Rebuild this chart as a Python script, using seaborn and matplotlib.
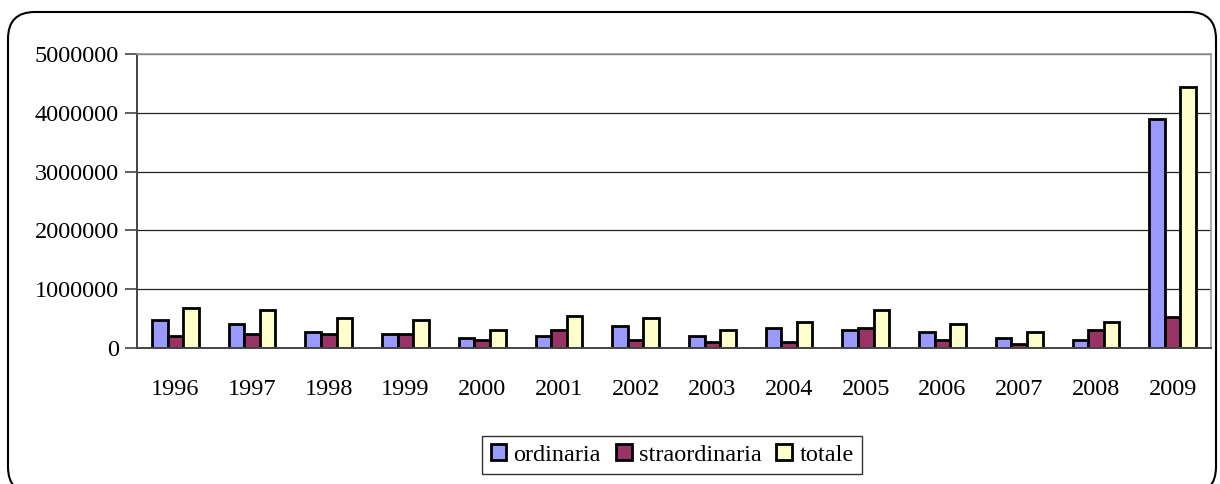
import numpy as np
import pandas as pd
import matplotlib
matplotlib.use("Agg")
import matplotlib.pyplot as plt
from matplotlib.patches import FancyBboxPatch
from matplotlib.ticker import FixedLocator
import seaborn as sns

# ── data ─────────────────────────────────────────────────────────────────────
ANNI = ["1996", "1997", "1998", "1999", "2000", "2001", "2002",
        "2003", "2004", "2005", "2006", "2007", "2008", "2009"]
ORDINARIA = [476000, 408000, 278000, 238000, 170000, 204000, 374000,
             204000, 340000, 306000, 272000, 170000, 136000, 3890000]
STRAORDINARIA = [204000, 238000, 238000, 238000, 136000, 306000, 136000,
                 102000, 102000, 340000, 136000, 68000, 306000, 532000]
TOTALE = [680000, 646000, 510000, 476000, 306000, 544000, 510000,
          306000, 442000, 646000, 408000, 272000, 442000, 4440000]
SERIE = ["ordinaria", "straordinaria", "totale"]
PALETTE = {"ordinaria": "#9999FF", "straordinaria": "#993366", "totale": "#FFFFCC"}

df = pd.DataFrame({
    "anno": ANNI * 3,
    "serie": np.repeat(SERIE, len(ANNI)),
    "valore": ORDINARIA + STRAORDINARIA + TOTALE,
})

# ── style ────────────────────────────────────────────────────────────────────
sns.set_style("white")
plt.rcParams.update({
    "font.family": ["Liberation Serif", "DejaVu Serif"],
    "font.size": 17.5,
    "text.color": "black",
    "xtick.color": "black",
    "ytick.color": "black",
    "xtick.labelcolor": "black",
    "ytick.labelcolor": "black",
})

fig = plt.figure(figsize=(12.2, 4.84), dpi=100)
ax = fig.add_axes([137 / 1220, 1 - 348 / 484, (1211 - 137) / 1220, (348 - 54) / 484])

sns.barplot(data=df, x="anno", y="valore", hue="serie", palette=PALETTE,
            order=ANNI, hue_order=SERIE, width=0.61, gap=0, saturation=1,
            edgecolor="black", linewidth=2.0, ax=ax, legend=True)

ax.set_xlim(-0.5, len(ANNI) - 0.5)
ax.set_ylim(0, 5000000)
ax.set_yticks(np.arange(0, 5000001, 1000000))
ax.set_yticklabels([f"{int(v)}" for v in np.arange(0, 5000001, 1000000)])
ax.yaxis.grid(True, color="#222222", lw=0.9)
ax.set_axisbelow(True)
ax.set_xlabel("")
ax.set_ylabel("")

# category separators as ticks below the axis
ax.tick_params(axis="x", which="major", length=0, pad=22)
ax.xaxis.set_minor_locator(FixedLocator(np.arange(-0.5, len(ANNI), 1.0)))
ax.tick_params(axis="x", which="minor", length=7, width=1.2, color="#444444", direction="out")
ax.tick_params(axis="y", length=9, width=1.2, color="#444444", direction="out", pad=4, left=True)

for side in ["left", "bottom"]:
    ax.spines[side].set_color("#444444")
    ax.spines[side].set_linewidth(1.4)
for side in ["top", "right"]:
    ax.spines[side].set_color("#999999")
    ax.spines[side].set_linewidth(1.2)

# legend
handles, labels = ax.get_legend_handles_labels()
ax.legend(handles, labels, ncol=3, loc="center",
          bbox_to_anchor=(672 / 1220, 1 - 455 / 484), bbox_transform=fig.transFigure,
          frameon=True, fancybox=False, edgecolor="#333333", framealpha=1,
          handlelength=0.65, handleheight=0.65, handletextpad=0.3, columnspacing=0.6,
          borderpad=0.35, fontsize=17.5)
ax.get_legend().get_frame().set_linewidth(1.0)

# rounded outer border of the chart area
border = FancyBboxPatch((8 / 1220, -0.02), (1216 - 8) / 1220, (484 - 12) / 484 + 0.02,
                        boxstyle="round,pad=0,rounding_size=0.022",
                        transform=fig.transFigure, fill=False,
                        edgecolor="black", linewidth=1.5, mutation_aspect=1220 / 484)
fig.patches.append(border)

fig.savefig("out.png", dpi=100)
